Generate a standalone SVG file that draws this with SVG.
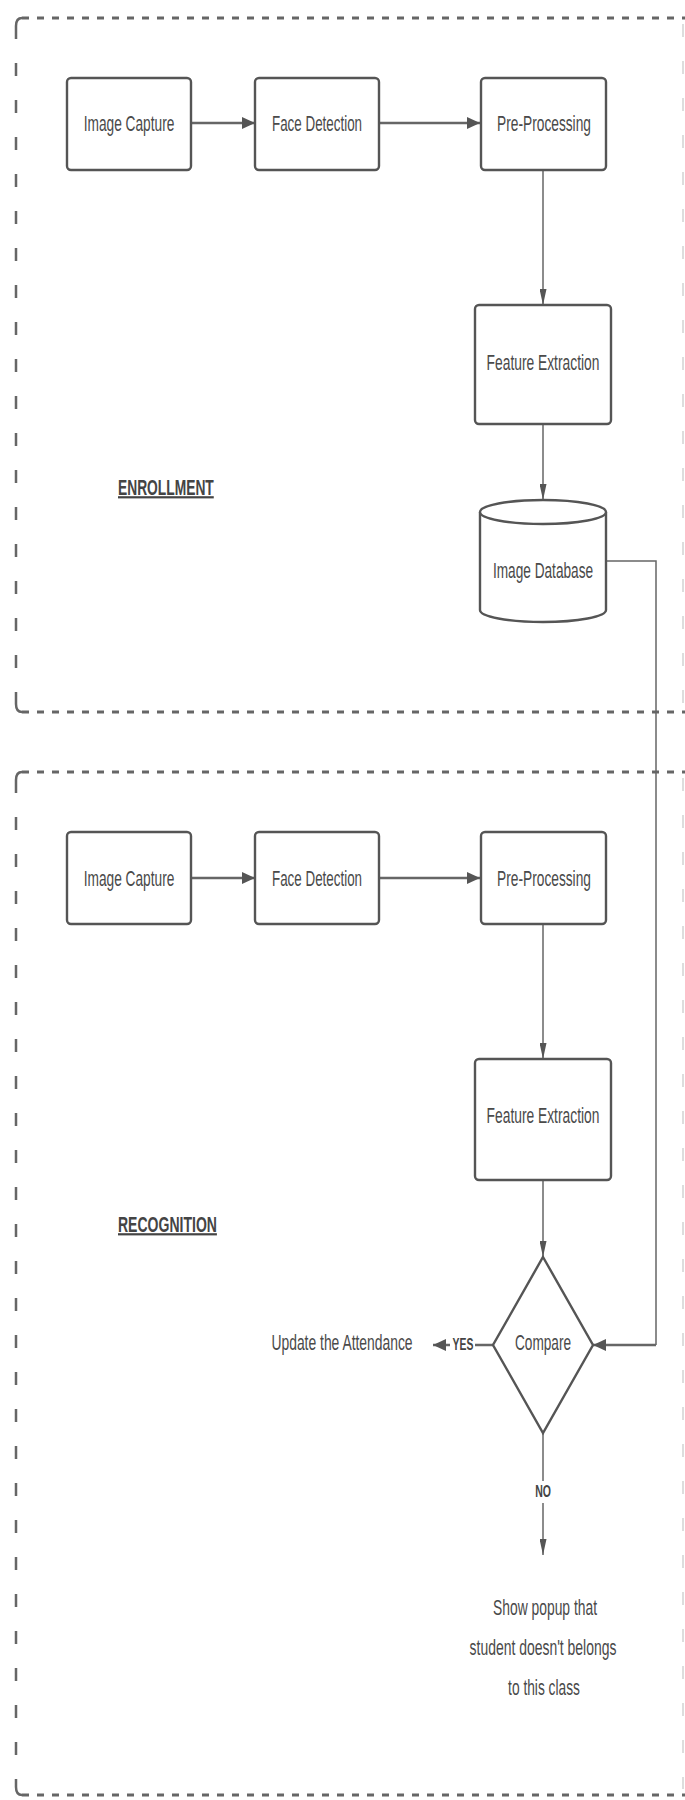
<svg xmlns="http://www.w3.org/2000/svg" width="685" height="1800" viewBox="0 0 685 1800">
<defs>
<style>
.frameH{fill:none;stroke:#666;stroke-width:3;stroke-dasharray:7 8}
.frameV{fill:none;stroke:#666;stroke-width:2.5;stroke-dasharray:13 24}
.frameR{fill:none;stroke:#bbb;stroke-width:1;stroke-dasharray:13 24}
.corner{fill:none;stroke:#666;stroke-width:2.5}
.box{fill:#fff;stroke:#555;stroke-width:2.4}
.lbl{font-family:"Liberation Sans",Arial,sans-serif;font-size:22px;fill:#4a4a4a;text-anchor:middle}
.sec{font-family:"Liberation Sans",Arial,sans-serif;font-size:22px;font-weight:bold;fill:#444;text-decoration:underline}
.small{font-family:"Liberation Sans",Arial,sans-serif;font-size:16px;font-weight:bold;fill:#444;text-anchor:middle}
.cH{fill:none;stroke:#666;stroke-width:2.5}
.cV{fill:none;stroke:#666;stroke-width:1.5}
</style>
<marker id="ah" markerUnits="userSpaceOnUse" viewBox="0 0 13 12" refX="13" refY="6" markerWidth="13" markerHeight="12" orient="auto"><path d="M0,0 L13,6 L0,12 z" fill="#555"/></marker>
<marker id="av" markerUnits="userSpaceOnUse" viewBox="0 0 16 7" refX="16" refY="3.5" markerWidth="16" markerHeight="7" orient="auto"><path d="M0,0 L16,3.5 L0,7 z" fill="#555"/></marker>
</defs>
<rect width="685" height="1800" fill="#fff"/>

<g id="enrollment-frame">
<path class="frameH" d="M22,18 H685"/>
<path class="frameH" d="M22,712 H685"/>
<path class="frameV" d="M16,26 V704"/>
<path class="corner" d="M16,26 Q16,18 22,18 M16,704 Q16,712 22,712"/>
<path class="frameR" d="M683,24 V706"/>
</g>
<g id="recognition-frame">
<path class="frameH" d="M22,772 H685"/>
<path class="frameH" d="M22,1795 H685"/>
<path class="frameV" d="M16,780 V1787"/>
<path class="corner" d="M16,780 Q16,772 22,772 M16,1787 Q16,1795 22,1795"/>
<path class="frameR" d="M683,778 V1789"/>
</g>

<g id="connectors">
<path class="cH" d="M191,123 H255" marker-end="url(#ah)"/>
<path class="cH" d="M379,123 H480" marker-end="url(#ah)"/>
<path class="cV" d="M543,170 V305" marker-end="url(#av)"/>
<path class="cV" d="M543,424 V500" marker-end="url(#av)"/>
<path class="cV" d="M606,561 H656 V1345"/>
<path class="cH" d="M656,1345 H593" marker-end="url(#ah)"/>
<path class="cH" d="M191,878 H255" marker-end="url(#ah)"/>
<path class="cH" d="M379,878 H480" marker-end="url(#ah)"/>
<path class="cV" d="M543,924 V1059" marker-end="url(#av)"/>
<path class="cV" d="M543,1180 V1257" marker-end="url(#av)"/>
<path class="cH" d="M493,1345 H433" marker-end="url(#ah)"/>
<path class="cV" d="M543,1433 V1555" marker-end="url(#av)"/>
<rect x="450" y="1335" width="25" height="20" fill="#fff"/>
<text class="small" transform="translate(463,1350) scale(0.63,1)" textLength="33" lengthAdjust="spacingAndGlyphs">YES</text>
<rect x="532" y="1481" width="22" height="22" fill="#fff"/>
<text class="small" transform="translate(543,1497) scale(0.63,1)" textLength="25" lengthAdjust="spacingAndGlyphs">NO</text>
</g>

<g id="e-image-capture">
<rect class="box" x="67" y="78" width="124" height="92" rx="4"/>
<text class="lbl" transform="translate(129,131) scale(0.63,1)" textLength="144" lengthAdjust="spacingAndGlyphs">Image Capture</text>
</g>
<g id="e-face-detection">
<rect class="box" x="255" y="78" width="124" height="92" rx="4"/>
<text class="lbl" transform="translate(317,131) scale(0.63,1)" textLength="143" lengthAdjust="spacingAndGlyphs">Face Detection</text>
</g>
<g id="e-pre-processing">
<rect class="box" x="481" y="78" width="125" height="92" rx="4"/>
<text class="lbl" transform="translate(544,131) scale(0.63,1)" textLength="149" lengthAdjust="spacingAndGlyphs">Pre-Processing</text>
</g>
<g id="e-feature-extraction">
<rect class="box" x="475" y="305" width="136" height="119" rx="4"/>
<text class="lbl" transform="translate(543,370) scale(0.63,1)" textLength="179" lengthAdjust="spacingAndGlyphs">Feature Extraction</text>
</g>
<g id="e-image-database">
<path class="box" d="M480,512 V610 A63,12 0 0 0 606,610 V512"/>
<ellipse class="box" cx="543" cy="512" rx="63" ry="12"/>
<text class="lbl" transform="translate(543,578) scale(0.63,1)" textLength="159" lengthAdjust="spacingAndGlyphs">Image Database</text>
</g>
<g id="enrollment-label">
<text class="sec" transform="translate(118,495) scale(0.63,1)" textLength="152" lengthAdjust="spacingAndGlyphs">ENROLLMENT</text>
</g>

<g id="r-image-capture">
<rect class="box" x="67" y="832" width="124" height="92" rx="4"/>
<text class="lbl" transform="translate(129,886) scale(0.63,1)" textLength="144" lengthAdjust="spacingAndGlyphs">Image Capture</text>
</g>
<g id="r-face-detection">
<rect class="box" x="255" y="832" width="124" height="92" rx="4"/>
<text class="lbl" transform="translate(317,886) scale(0.63,1)" textLength="143" lengthAdjust="spacingAndGlyphs">Face Detection</text>
</g>
<g id="r-pre-processing">
<rect class="box" x="481" y="832" width="125" height="92" rx="4"/>
<text class="lbl" transform="translate(544,886) scale(0.63,1)" textLength="149" lengthAdjust="spacingAndGlyphs">Pre-Processing</text>
</g>
<g id="r-feature-extraction">
<rect class="box" x="475" y="1059" width="136" height="121" rx="4"/>
<text class="lbl" transform="translate(543,1123) scale(0.63,1)" textLength="179" lengthAdjust="spacingAndGlyphs">Feature Extraction</text>
</g>
<g id="recognition-label">
<text class="sec" transform="translate(118,1232) scale(0.63,1)" textLength="157" lengthAdjust="spacingAndGlyphs">RECOGNITION</text>
</g>
<g id="compare">
<polygon class="box" points="543,1257 593,1345 543,1433 493,1345"/>
<text class="lbl" transform="translate(543,1350) scale(0.63,1)" textLength="89" lengthAdjust="spacingAndGlyphs">Compare</text>
</g>
<g id="update-attendance">
<text class="lbl" transform="translate(342,1350) scale(0.63,1)" textLength="224" lengthAdjust="spacingAndGlyphs">Update the Attendance</text>
</g>
<g id="show-popup">
<text class="lbl" transform="translate(545,1615) scale(0.63,1)" textLength="165" lengthAdjust="spacingAndGlyphs">Show popup that</text>
<text class="lbl" transform="translate(543,1655) scale(0.63,1)" textLength="233" lengthAdjust="spacingAndGlyphs">student doesn't belongs</text>
<text class="lbl" transform="translate(544,1695) scale(0.63,1)" textLength="114" lengthAdjust="spacingAndGlyphs">to this class</text>
</g>
</svg>
